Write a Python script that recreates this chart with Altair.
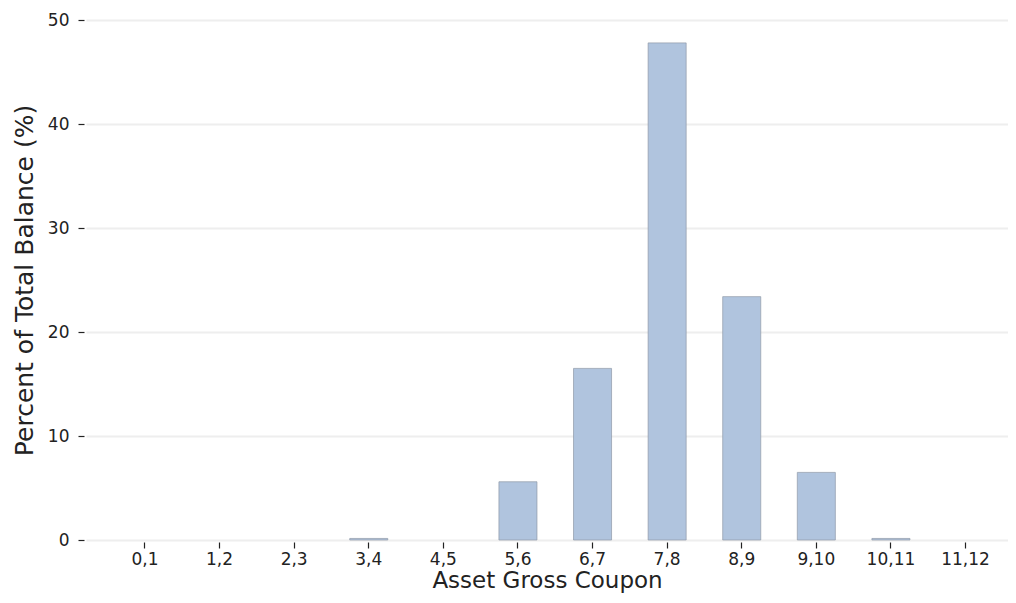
import altair as alt
import pandas as pd

categories = ["0,1", "1,2", "2,3", "3,4", "4,5", "5,6", "6,7", "7,8", "8,9", "9,10", "10,11", "11,12"]
percent = [0.0, 0.0, 0.0, 0.15, 0.0, 5.6, 16.5, 47.8, 23.4, 6.5, 0.15, 0.0]

df = pd.DataFrame({"coupon": categories, "pct": percent})

FONT = "DejaVu Sans"

chart = alt.Chart(df).transform_filter(
    "datum.pct > 0"
).mark_bar(
    color="#B0C4DE", stroke="#8f9aa8", strokeWidth=0.7
).encode(
    x=alt.X("coupon:N", sort=categories,
            scale=alt.Scale(domain=categories, paddingInner=0.49, paddingOuter=0.425, align=0.63),
            axis=alt.Axis(title="Asset Gross Coupon", labelAngle=0, domain=False,
                          ticks=True, tickSize=6, offset=2, tickColor="#222222", tickWidth=1.2,
                          labelFontSize=17, labelColor="#222222", labelPadding=3,
                          titleFontSize=23, titleFontWeight="normal", titleColor="#222222",
                          titlePadding=2, grid=False)),
    y=alt.Y("pct:Q", scale=alt.Scale(domain=[0, 50], nice=False),
            axis=alt.Axis(title="Percent of Total Balance (%)", values=[0, 10, 20, 30, 40, 50],
                          domain=False, tickSize=6, offset=2, tickColor="#222222", tickWidth=1.2,
                          labelFontSize=17, labelColor="#222222", labelPadding=9,
                          titleFontSize=25, titleFontWeight="normal", titleColor="#222222",
                          titlePadding=10, grid=True, gridColor="#eeeeee", gridWidth=2)),
).properties(
    width=922, height=520,
    title=alt.TitleParams("Portfolio Gross Coupon Distribution", fontSize=28, font=FONT,
                          fontWeight="normal", color="#222222", baseline="alphabetic",
                          offset=9, anchor="middle"),
    autosize=alt.AutoSizeParams(type="none"),
    padding={"left": 78, "top": 12, "right": 0, "bottom": 55},
).configure(font=FONT).configure_view(stroke=None)

chart.save("out.html", embed_options={"renderer": "svg", "actions": False})
